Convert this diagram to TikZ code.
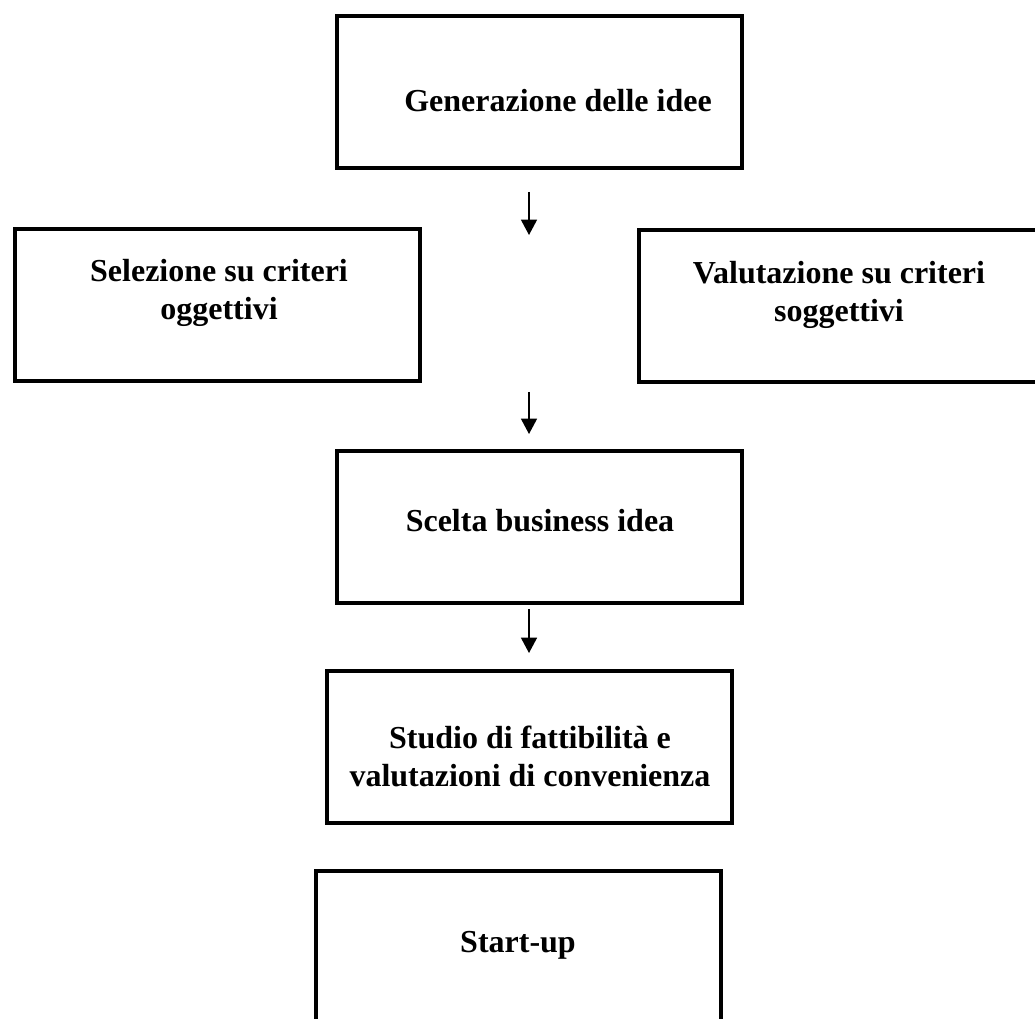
\documentclass[tikz,border=0pt]{standalone}
\usepackage{fontspec}
\setmainfont{Liberation Serif}
\usetikzlibrary{arrows.meta}

\begin{document}
\begin{tikzpicture}[x=0.75pt,y=0.75pt,yscale=-1,xscale=1,
  box/.style={draw, line width=3pt, minimum width=303.75pt, minimum height=114pt, inner sep=0pt},
  txt/.style={font=\bfseries\fontsize{24}{28.5}\selectfont, align=center, inner sep=0pt},
  arr/.style={line width=1.1pt, -{Triangle[width=12pt,length=11.5pt]}}]
\useasboundingbox (0,0) rectangle (1035,1019);

% boxes
\node[box] (gen) at (539,92) {};
\node[box] (sel) at (217.5,305) {};
\node[box] (val) at (841,306) {};
\node[box] (scelta) at (539.5,527) {};
\node[box] (studio) at (529.5,747) {};
\node[box] (start) at (518.5,947) {};

% texts
\node[txt] (gen-t) at (558,101) {Generazione delle idee};
\node[txt] (sel-t) at (219,293) {Selezione su criteri\\oggettivi};
\node[txt] (val-t) at (839,295) {Valutazione su criteri\\soggettivi};
\node[txt] (scelta-t) at (540,521) {Scelta business idea};
\node[txt] (studio-t) at (530,756) {Studio di fattibilità e\\valutazioni di convenienza};
\node[txt] (start-t) at (518,945) {Start-up};

% arrows
\coordinate (a1) at (529,192); \coordinate (b1) at (529,235);
\coordinate (a2) at (529,392); \coordinate (b2) at (529,434);
\coordinate (a3) at (529,609); \coordinate (b3) at (529,653);
\draw[arr] (a1) -- (b1);
\draw[arr] (a2) -- (b2);
\draw[arr] (a3) -- (b3);

\end{tikzpicture}
\end{document}
